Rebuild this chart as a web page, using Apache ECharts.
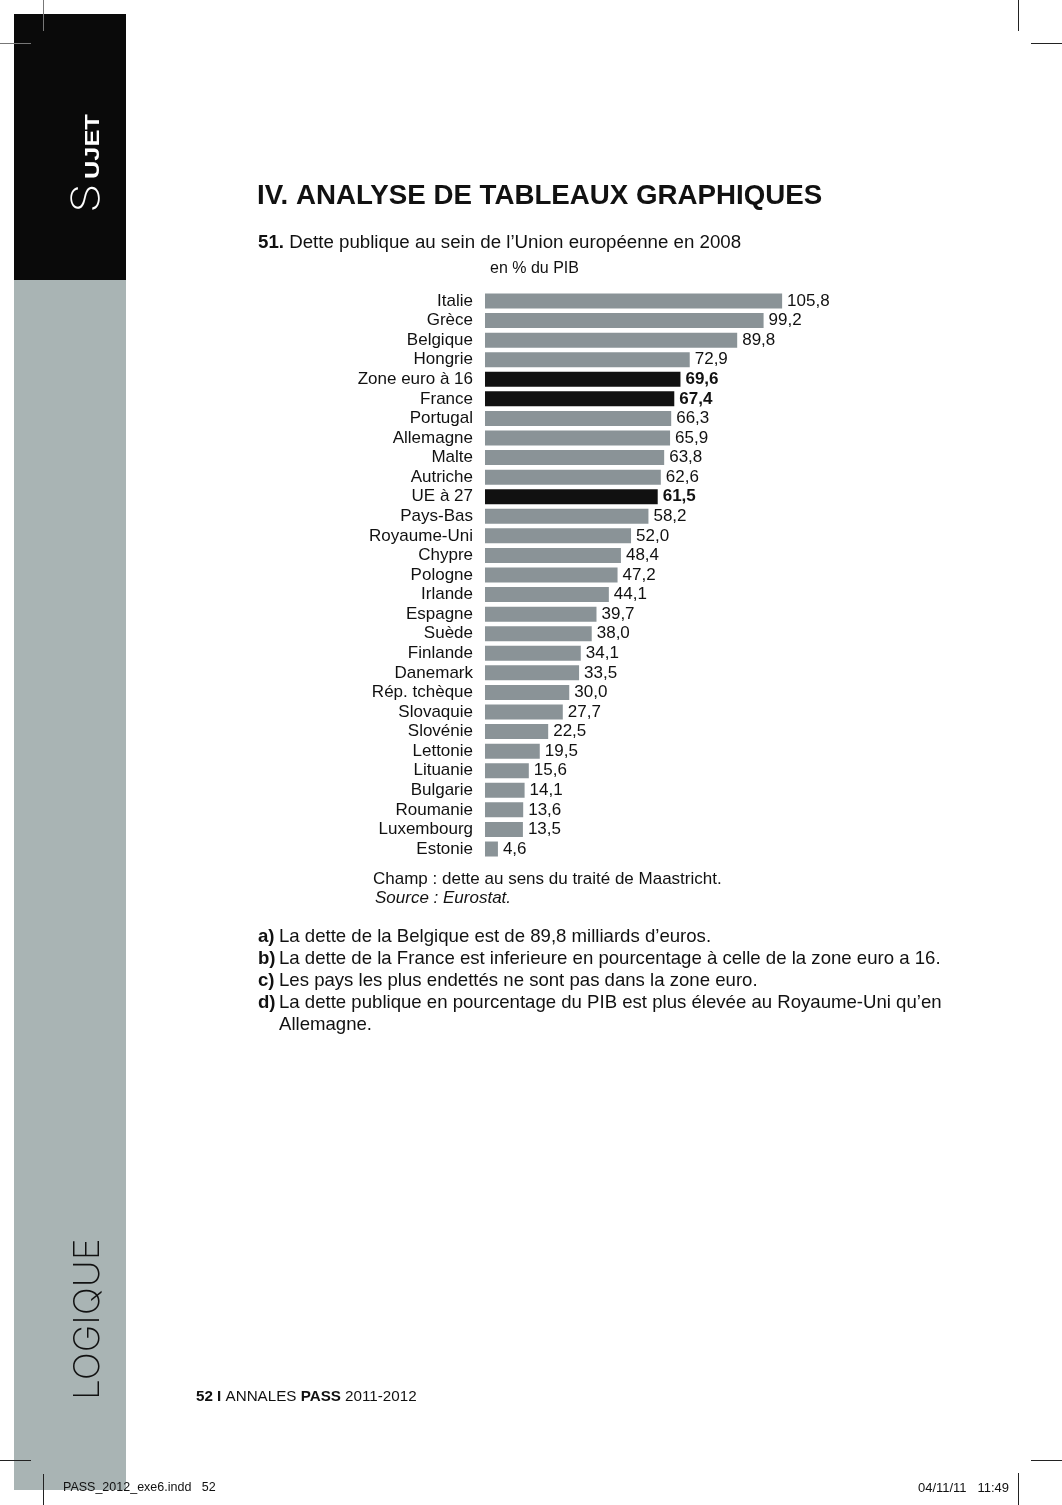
<!DOCTYPE html>
<html>
<head>
<meta charset="utf-8">
<style>
html,body{margin:0;padding:0;background:#fff;}
#c{width:1062px;height:1505px;}
</style>
<script src="https://cdn.jsdelivr.net/npm/echarts@6/dist/echarts.min.js"></script>
</head>
<body>
<div id="c"></div>
<script>
const categories = ['Italie','Grèce','Belgique','Hongrie','Zone euro à 16','France','Portugal','Allemagne','Malte','Autriche','UE à 27','Pays-Bas','Royaume-Uni','Chypre','Pologne','Irlande','Espagne','Suède','Finlande','Danemark','Rép. tchèque','Slovaquie','Slovénie','Lettonie','Lituanie','Bulgarie','Roumanie','Luxembourg','Estonie'];
const values = [105.8,99.2,89.8,72.9,69.6,67.4,66.3,65.9,63.8,62.6,61.5,58.2,52.0,48.4,47.2,44.1,39.7,38.0,34.1,33.5,30.0,27.7,22.5,19.5,15.6,14.1,13.6,13.5,4.6];
const highlighted = ['Zone euro à 16','France','UE à 27'];
const unitLabel = 'en % du PIB';
const questions = [
  ['a)', 'La dette de la Belgique est de 89,8 milliards d’euros.'],
  ['b)', 'La dette de la France est inferieure en pourcentage à celle de la zone euro a 16.'],
  ['c)', 'Les pays les plus endettés ne sont pas dans la zone euro.'],
  ['d)', 'La dette publique en pourcentage du PIB est plus élevée au Royaume-Uni qu’en'],
  ['', 'Allemagne.']
];

const F = 'Liberation Sans, Arial, Helvetica, sans-serif';
const GREY = '#8a9397';
const DARK = '#111111';

const chart = echarts.init(document.getElementById('c'), null, {renderer:'canvas'});

function txt(x, y, text, font, opts) {
  opts = opts || {};
  const st = Object.assign({
    text: text, x: 0, y: 0, font: font, fill: opts.fill || '#111',
    textAlign: opts.align || 'left', align: opts.align || 'left',
    textVerticalAlign: opts.va || 'middle', verticalAlign: opts.va || 'middle'
  }, opts.style || {});
  const el = {type:'text', x:x, y:y, rotation: opts.rotation || 0, style: st, z: 10};
  if (opts.scaleX) el.scaleX = opts.scaleX;
  return el;
}
function line(x1,y1,x2,y2,color){
  return {type:'line', shape:{x1:x1,y1:y1,x2:x2,y2:y2}, style:{stroke:color||'#222', lineWidth:1}, z: 20};
}

const graphics = [
  // sidebar
  {type:'rect', shape:{x:14,y:14,width:112,height:266}, style:{fill:'#0a0a0a'}, z:1},
  {type:'rect', shape:{x:14,y:280,width:112,height:1210}, style:{fill:'#a9b4b4'}, z:1},
  // SUJET
  txt(87, 213, 'S', '200 39px Inter, "DejaVu Sans", sans-serif', {rotation: Math.PI/2, fill:'#fff', scaleX:1.22}),
  txt(93.5, 179, 'UJET', 'bold 19.5px '+F, {rotation: Math.PI/2, fill:'#fff', scaleX:1.3}),
  // LOGIQUE
  txt(88, 1400, 'LOGIQUE', '200 35px Inter, "DejaVu Sans", sans-serif', {rotation: Math.PI/2, fill:'#111', scaleX:1.06}),
  // Title
  txt(257, 196, 'IV. ANALYSE DE TABLEAUX GRAPHIQUES', 'bold 27.7px '+F),
  {type:'text', x:258, y:243, z:10, style:{
    text:'{b|51.} Dette publique au sein de l’Union européenne en 2008', x:0, y:0,
    textAlign:'left', align:'left', textVerticalAlign:'middle', verticalAlign:'middle',
    font:'18.7px '+F, fill:'#111',
    rich:{ b:{font:'bold 18.7px '+F, fill:'#111'} }
  }},
  txt(490, 269, unitLabel, '16px '+F),
  // notes
  txt(373, 879, 'Champ : dette au sens du traité de Maastricht.', '17px '+F),
  txt(375, 898, 'Source : Eurostat.', 'italic 17px '+F),
  // footer
  {type:'text', x:196, y:1397, z:10, style:{
    text:'{b|52 I} ANNALES {b|PASS} 2011-2012', x:0, y:0,
    textAlign:'left', align:'left', textVerticalAlign:'middle', verticalAlign:'middle',
    font:'15.2px '+F, fill:'#111', rich:{ b:{font:'bold 15.2px '+F, fill:'#111'} }
  }},
  txt(63, 1488, 'PASS_2012_exe6.indd   52', '12.5px '+F),
  txt(1009, 1488, '04/11/11   11:49', '13px '+F, {align:'right'}),
  // crop marks
  line(43.5,0,43.5,31,'#777'), line(0,43.5,31,43.5,'#777'),
  line(1018.5,0,1018.5,31,'#222'), line(1031,43.5,1062,43.5,'#222'),
  line(0,1460.5,31,1460.5,'#222'), line(43.5,1474,43.5,1505,'#222'),
  line(1031,1460.5,1062,1460.5,'#222'), line(1018.5,1473,1018.5,1505,'#222')
];

questions.forEach((q, i) => {
  const y = 937 + i * 22;
  if (q[0]) graphics.push(txt(258, y, q[0], 'bold 18.6px '+F));
  graphics.push(txt(279, y, q[1], '18.6px '+F));
});

const data = categories.map((c, i) => {
  const hi = highlighted.indexOf(c) >= 0;
  return {
    value: values[i],
    itemStyle: {color: hi ? DARK : GREY},
    label: hi ? {fontWeight:'bold'} : {}
  };
});

chart.setOption({
  animation: false,
  backgroundColor: '#ffffff',
  grid: {left: 485, top: 291.2, width: 337, height: 567.6, containLabel: false},
  xAxis: {type:'value', min:0, max:120, show:false},
  yAxis: {
    type:'category', data: categories, inverse: true,
    axisLine:{show:false}, axisTick:{show:false}, splitLine:{show:false},
    axisLabel:{color:'#111', fontSize:17, fontFamily:F, margin:12, interval:0}
  },
  series: [{
    type:'bar', data: data, barWidth: 15,
    label: {
      show:true, position:'right', distance:5, color:'#111', fontSize:17, fontFamily:F,
      formatter: p => p.value.toFixed(1).replace('.', ',')
    }
  }],
  graphic: graphics
});
</script>
</body>
</html>
